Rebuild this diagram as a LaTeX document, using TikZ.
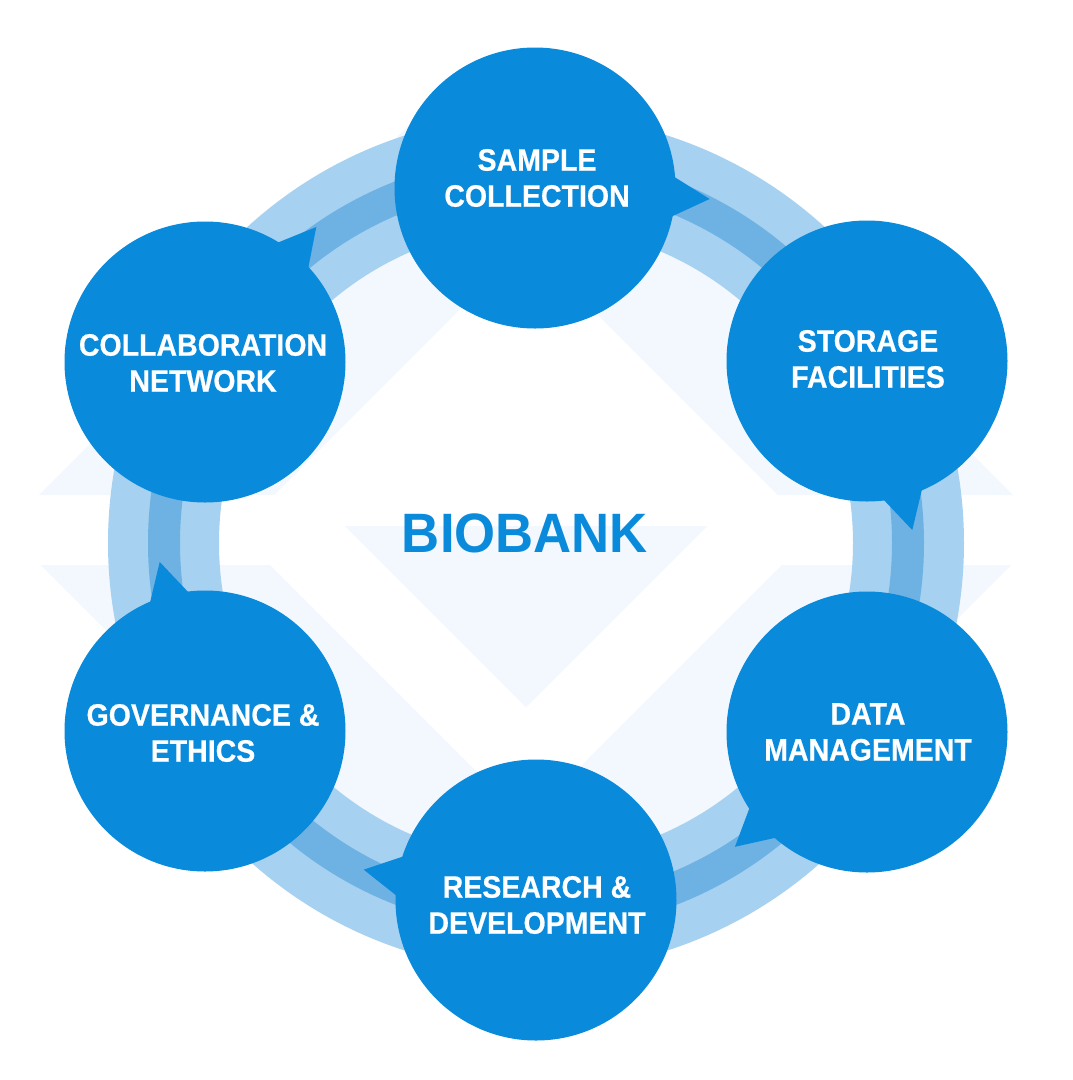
\documentclass[tikz,border=0pt]{standalone}
\usepackage{fontspec}
\newfontfamily\hv{Liberation Sans}[FakeStretch=0.92,FakeBold=0.5]
\newfontfamily\hvt{Liberation Sans}[FakeStretch=0.95]
\usetikzlibrary{calc}
\definecolor{bub}{RGB}{10,138,219}
\definecolor{ringlt}{RGB}{166,209,240}
\definecolor{ringdk}{RGB}{110,178,228}
\definecolor{tint}{RGB}{242,248,253}
\begin{document}
\begin{tikzpicture}[x=1pt,y=-1pt,
  bubble/.style={circle,fill=bub,minimum size=281pt,inner sep=0pt},
  label/.style={text=white,inner sep=0pt,align=center,
    font=\hv\bfseries\fontsize{31}{36}\selectfont},
  title/.style={text=bub,font=\hvt\bfseries\fontsize{55.5}{60}\selectfont,inner sep=0pt}]
\fill[white] (0,0) rectangle (1072,1080);
\useasboundingbox (0,0) rectangle (1072,1080);
% faint background chevrons
\fill[tint] (474,60) -- (39,495) -- (274,495) -- (526,243) -- (778,495) -- (1013,495) -- (578,60) -- cycle;
\fill[tint] (41,565) -- (270,565) -- (526,821) -- (782,565) -- (1011,565) -- (536,1040) -- (516,1040) -- cycle;
\fill[tint] (345,526) -- (707,526) -- (526,707) -- cycle;
% ring
\coordinate (o) at (536,543);
\fill[ringlt,even odd rule] (o) circle[radius=428pt] (o) circle[radius=317pt];
\fill[ringdk,even odd rule] (o) circle[radius=388pt] (o) circle[radius=356pt];
% circle centres
\coordinate (c1) at (535,188);
\coordinate (c2) at (867,361);
\coordinate (c3) at (867,732);
\coordinate (c4) at (536,900);
\coordinate (c5) at (205,731);
\coordinate (c6) at (205,362);
% speech-bubble tails
\foreach \n/\a in {c1/3.6, c2/75, c3/139, c4/190, c5/255, c6/309.5}
  \fill[bub] ($(\n)+(\a-10:134)$) -- ($(\n)+(\a:175)$) -- ($(\n)+(\a+10:134)$) -- cycle;
% bubbles
\foreach \i in {1,...,6} \node[bubble] (n\i) at (c\i) {};
\node[label] (t1) at (537,178) {SAMPLE\\COLLECTION};
\node[label] (t2) at (868,359) {STORAGE\\FACILITIES};
\node[label] (t3) at (868,732) {DATA\\MANAGEMENT};
\node[label] (t4) at (537,905) {RESEARCH \&\\DEVELOPMENT};
\node[label] (t5) at (203,733) {GOVERNANCE \&\\ETHICS};
\node[label] (t6) at (203,363) {COLLABORATION\\NETWORK};
\node[title] (bb) at (525,533) {BIOBANK};
\end{tikzpicture}
\end{document}
